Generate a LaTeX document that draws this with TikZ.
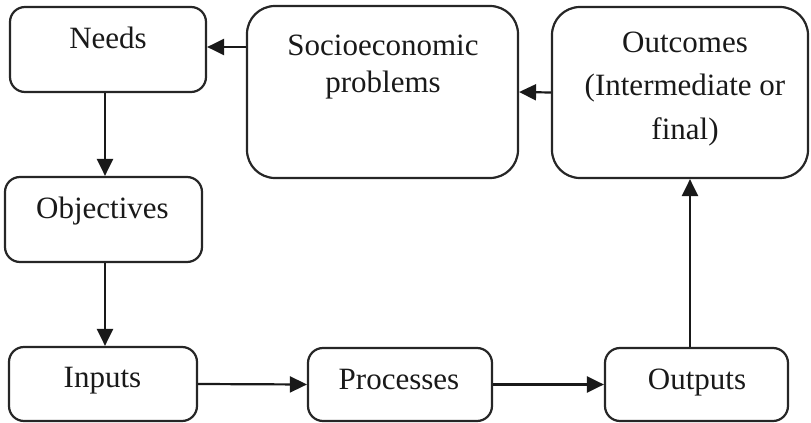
\documentclass[tikz,border=0pt]{standalone}
\usepackage{fontspec}
\setmainfont{Liberation Serif}
\usetikzlibrary{arrows.meta}
\begin{document}
\begin{tikzpicture}[x=0.5pt,y=-0.5pt,
  box/.style={draw=black!85, line width=1.1pt, rounded corners=7.5pt, inner sep=0pt},
  bigbox/.style={box, rounded corners=14pt},
  lbl/.style={anchor=base, inner sep=0pt, text=black!90, font=\fontsize{15.5}{18}\selectfont},
  arr/.style={draw=black!90, line width=1.1pt, -{Triangle[length=8.5pt,width=8pt]}}]
\useasboundingbox (0,0) rectangle (811,423);

% boxes
\node[box, minimum width=98pt, minimum height=42.5pt] (needs) at (108,49.5) {};
\node[bigbox, minimum width=135.5pt, minimum height=86pt] (socio) at (382.5,92) {};
\node[bigbox, minimum width=128pt, minimum height=85.5pt] (outcomes) at (680,92.5) {};
\node[box, minimum width=98.5pt, minimum height=42.5pt] (objectives) at (103.5,219.5) {};
\node[box, minimum width=94pt, minimum height=37pt] (inputs) at (103,384) {};
\node[box, minimum width=92pt, minimum height=36.5pt] (processes) at (400,384.5) {};
\node[box, minimum width=91.5pt, minimum height=36.5pt] (outputs) at (696.5,384.5) {};

% labels
\node[lbl] (tneeds) at (108,48) {Needs};
\node[lbl] (tsocioa) at (383,55) {Socioeconomic};
\node[lbl] (tsociob) at (383,92) {problems};
\node[lbl] (touta) at (685,53) {Outcomes};
\node[lbl] (toutb) at (685,96) {(Intermediate or};
\node[lbl] (toutc) at (685,140) {final)};
\node[lbl] (tobj) at (102.5,219) {Objectives};
\node[lbl] (tin) at (102.5,387) {Inputs};
\node[lbl] (tproc) at (399,389) {Processes};
\node[lbl] (tout) at (697,389) {Outputs};

% connectors
\coordinate (ya) at (0,47);
\coordinate (xa) at (105,0);
\coordinate (xb) at (690,0);
\draw[arr] (socio.west |- ya) -- (needs.east |- ya);
\draw[arr] (outcomes.west) -- (socio.east);
\draw[arr] (needs.south -| xa) -- (objectives.north -| xa);
\draw[arr] (objectives.south -| xa) -- (inputs.north -| xa);
\draw[arr] (inputs.east) -- (processes.west);
\draw[arr] (processes.east) -- (outputs.west);
\draw[arr] (outputs.north -| xb) -- (outcomes.south -| xb);
\end{tikzpicture}
\end{document}
